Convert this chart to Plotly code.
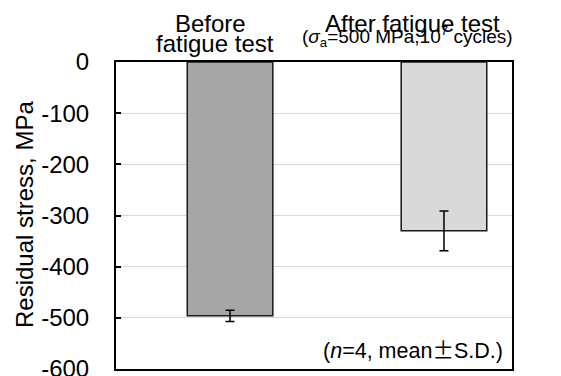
import plotly.graph_objects as go

categories = ["Before fatigue test", "After fatigue test"]
cat_pos = [0, 1]
mean_stress = [-496, -330]
sd_stress = [11, 39]
bar_colors = ["#a6a6a6", "#d9d9d9"]
y_ticks = [0, -100, -200, -300, -400, -500, -600]
y_tick_text = ["0", "-100", "-200", "-300", "-400", "-500", "-600"]

FONT = "Liberation Sans, Arial, sans-serif"

fig = go.Figure()
fig.add_trace(go.Bar(
    x=cat_pos, y=mean_stress, width=0.40,
    marker=dict(color=bar_colors, line=dict(color="#1a1a1a", width=1.5)),
    error_y=dict(type="data", array=sd_stress, visible=True,
                 color="black", thickness=1.5, width=4.5),
    hovertext=categories,
))

L, R, T, B = 116, 49, 62, 7
W, H = 561, 376
pw, ph = W - L - R, H - T - B

def px(x):
    return (x - L) / pw

def py(y):
    return (H - B - y) / ph

annotations = [
    dict(text="Before", x=px(210), y=py(24), font=dict(size=24)),
    dict(text="fatigue test", x=px(214.5), y=py(44), font=dict(size=24)),
    dict(text="After fatigue test", x=px(412.5), y=py(24), font=dict(size=24)),
    dict(text="(<i>σ</i><sub>a</sub>=500 MPa,10<sup>7</sup> cycles)", x=px(407.5), y=py(37), font=dict(size=19)),
    dict(text="(<i>n</i>=4, mean<span style='font-family:Noto Sans CJK JP'>\u00b1</span>S.D.)",
         x=px(505), y=py(348), xanchor="right", font=dict(size=21.5)),
    dict(text="Residual stress, MPa", x=px(24), y=py(215), textangle=-90, font=dict(size=24)),
]
for a in annotations:
    a.setdefault("xanchor", "center")
    a.update(xref="paper", yref="paper", yanchor="middle", showarrow=False)
    a["font"].update(family=FONT, color="black")

fig.update_layout(
    width=W, height=H,
    margin=dict(l=L, r=R, t=T, b=B, autoexpand=False),
    paper_bgcolor="white", plot_bgcolor="white",
    showlegend=False,
    font=dict(family=FONT, color="black", size=24),
    annotations=annotations,
    xaxis=dict(range=[-0.533, 1.318], showticklabels=False, ticks="",
               showgrid=False, zeroline=False, showline=True, mirror=True,
               linecolor="black", linewidth=2, automargin=False),
    yaxis=dict(range=[-600, 0], tickvals=y_ticks, ticktext=y_tick_text,
               ticks="inside", ticklen=5,
               tickcolor="black", tickwidth=1.5,
               tickfont=dict(size=24, family=FONT, color="black"),
               ticklabelstandoff=20, ticklabeloverflow="allow", automargin=False,
               showgrid=True, gridcolor="#d9d9d9", gridwidth=1,
               zeroline=False, showline=True, mirror=True,
               linecolor="black", linewidth=2),
)

fig.write_html("out.html", config={"displayModeBar": False},
               post_script="document.body.style.margin='0';document.body.style.overflow='hidden';")
